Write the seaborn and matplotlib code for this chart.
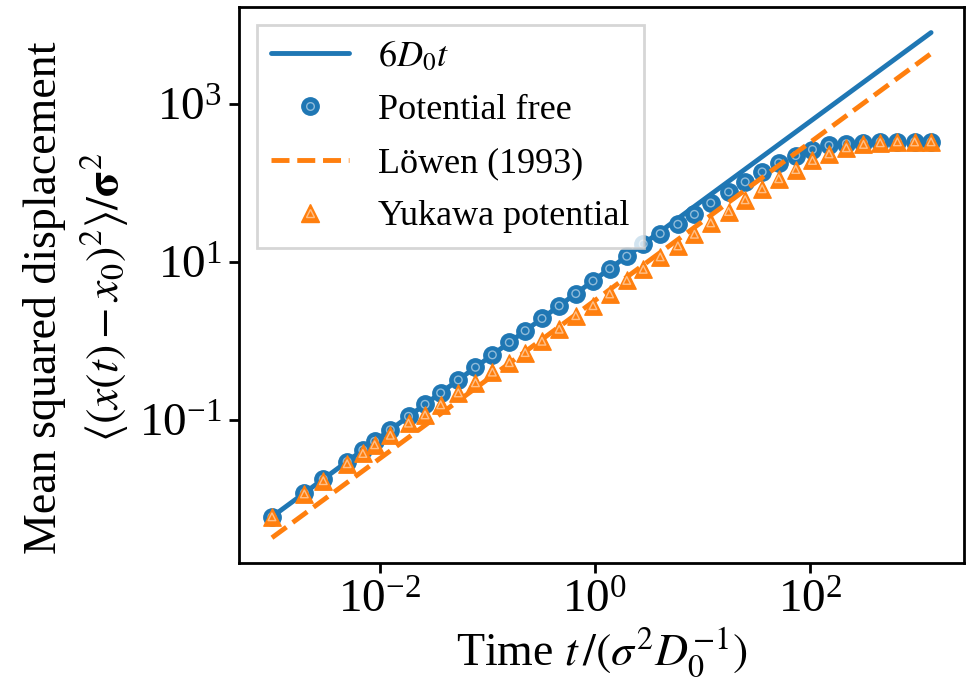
import matplotlib
matplotlib.use("Agg")
import matplotlib.pyplot as plt
from matplotlib.lines import Line2D
from matplotlib.legend_handler import HandlerTuple
from matplotlib.ticker import FixedLocator, NullLocator
import seaborn as sns

# Simulation times t / (sigma^2 / D0)
t = [0.001, 0.002, 0.003, 0.005, 0.007, 0.009, 0.0126, 0.0186, 0.0265, 0.037,
     0.054, 0.078, 0.112, 0.161, 0.226, 0.324, 0.468, 0.668, 0.966, 1.38,
     1.99, 2.83, 4.07, 5.94, 8.47, 12.0, 17.6, 25.1, 36.1, 51.5,
     74.1, 106, 151, 219, 316, 452, 653, 944, 1343]

# MSD of a free particle in the periodic box
msd_free = [0.006, 0.012, 0.018, 0.030, 0.042, 0.054, 0.0756, 0.112, 0.159, 0.222,
            0.324, 0.468, 0.672, 0.966, 1.36, 1.94, 2.81, 4.01, 5.80, 8.28,
            11.9, 17.0, 23.0, 30.2, 40.3, 56.2, 77.6, 104, 139, 181,
            224, 267, 301, 316, 324, 334, 332, 335, 334]

# MSD with Yukawa interactions
msd_yukawa = [0.006, 0.0117, 0.0172, 0.0282, 0.0380, 0.0490, 0.0646, 0.0920, 0.117, 0.157,
              0.222, 0.298, 0.407, 0.536, 0.719, 1.00, 1.42, 2.11, 2.82, 3.97,
              5.89, 8.13, 11.7, 16.1, 22.6, 31.5, 43.8, 61.7, 85.1, 114,
              149, 194, 235, 281, 310, 325, 334, 333, 334]

# Reference straight lines (6 D t) over the simulated time window
t_line = [0.001, 1343]
msd_d0 = [0.006, 8058]
msd_lowen = [0.00326, 4375]

# Tick positions
x_ticks = [1e-2, 1e0, 1e2]
y_ticks = [1e-1, 1e1, 1e3]

blue = "#1f77b4"
orange = "#ff7f0e"

sns.set_theme(style="ticks")
plt.rcParams.update({
    "font.family": ["Liberation Serif", "DejaVu Serif"],
    "mathtext.fontset": "stix",
    "font.size": 26,
    "axes.labelsize": 33,
    "xtick.labelsize": 34,
    "ytick.labelsize": 34,
    "legend.fontsize": 26,
    "axes.edgecolor": "black",
    "axes.linewidth": 2.0,
    "xtick.major.size": 7.5,
    "ytick.major.size": 7.5,
    "xtick.major.width": 2.0,
    "ytick.major.width": 2.0,
    "xtick.color": "black",
    "ytick.color": "black",
    "text.color": "black",
    "axes.labelcolor": "black",
})

fig = plt.figure(figsize=(9.68, 6.84), dpi=100)
ax = fig.add_axes([0.2469, 0.1769, 0.9959 - 0.2469, 0.9893 - 0.1769])
ax.set(xscale="log", yscale="log")

ms_big = 12.5
ms_ring = 5.5
ring = (1, 1, 1, 0.5)

sns.lineplot(x=t_line, y=msd_d0, ax=ax, color=blue, lw=3.5, zorder=2)
sns.scatterplot(x=t, y=msd_free, ax=ax, marker="o", s=ms_big ** 2, color=blue,
                edgecolor=blue, linewidth=1.0, zorder=3)
sns.scatterplot(x=t, y=msd_free, ax=ax, marker="o", s=ms_ring ** 2, facecolor="none",
                edgecolor=ring, linewidth=1.0, zorder=3.1)
sns.lineplot(x=t_line, y=msd_lowen, ax=ax, color=orange, lw=3.5, linestyle="--", zorder=4)
sns.scatterplot(x=t, y=msd_yukawa, ax=ax, marker="^", s=ms_big ** 2, color=orange,
                edgecolor=orange, linewidth=1.0, zorder=5)
sns.scatterplot(x=t, y=msd_yukawa, ax=ax, marker="^", s=ms_ring ** 2, facecolor="none",
                edgecolor=ring, linewidth=1.0, zorder=5.1)

ax.xaxis.set_major_locator(FixedLocator(x_ticks))
ax.yaxis.set_major_locator(FixedLocator(y_ticks))
ax.xaxis.set_minor_locator(NullLocator())
ax.yaxis.set_minor_locator(NullLocator())
ax.tick_params(which="major", direction="out", pad=5)
for s in ax.spines.values():
    s.set_visible(True)

ax.set_xlabel(r"Time $t\,/(\sigma^2 D_0^{-1})$", labelpad=2)
ax.set_ylabel("Mean squared displacement\n" r"$\langle (x(t)-x_0)^2\rangle/\mathbf{\sigma}^2$",
              linespacing=1.3, labelpad=6)
ax.yaxis.label.set_y(0.478)

h_line = Line2D([], [], color=blue, lw=3.5)
h_free = (Line2D([], [], ls="", marker="o", ms=ms_big, color=blue, mec=blue),
          Line2D([], [], ls="", marker="o", ms=ms_ring, mfc="none", mec=ring, mew=1.0))
h_lowen = Line2D([], [], color=orange, lw=3.5, ls="--")
h_yuk = (Line2D([], [], ls="", marker="^", ms=ms_big, color=orange, mec=orange),
         Line2D([], [], ls="", marker="^", ms=ms_ring, mfc="none", mec=ring, mew=1.0))
leg = ax.legend([h_line, h_free, h_lowen, h_yuk],
                [r"$6D_0t$", "Potential free", "Löwen (1993)", "Yukawa potential"],
                handler_map={tuple: HandlerTuple(ndivide=1)},
                loc="upper left", fancybox=False, frameon=True, framealpha=0.8,
                edgecolor="0.8", handlelength=2.15, numpoints=1, borderaxespad=0.5,
                labelspacing=0.55)
leg.get_frame().set_linewidth(2.0)

fig.savefig("out.png", dpi=100)
